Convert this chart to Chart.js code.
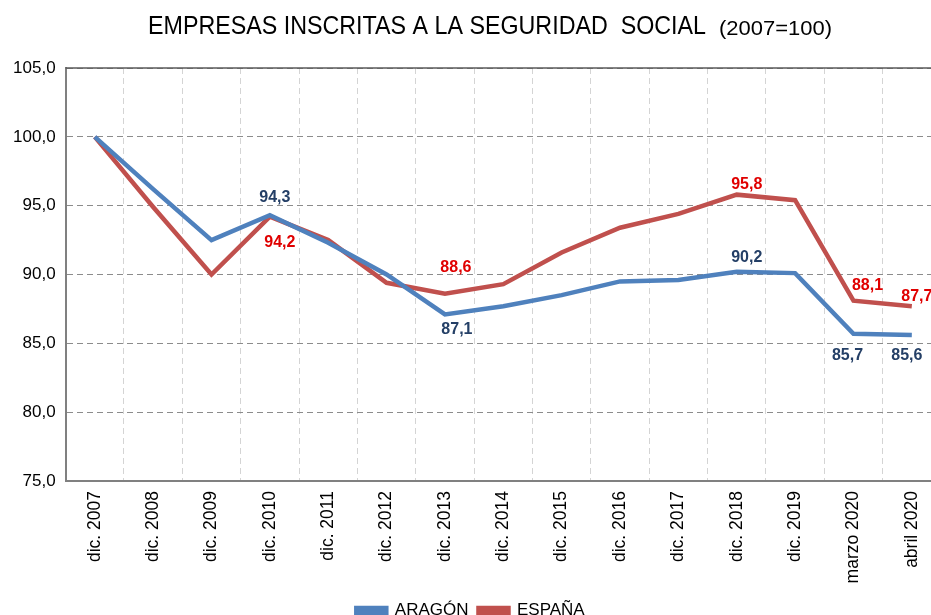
<!DOCTYPE html>
<html>
<head>
<meta charset="utf-8">
<script src="https://cdn.jsdelivr.net/npm/chart.js@4/dist/chart.umd.min.js"></script>
<style>
  html, body { margin: 0; padding: 0; background: #ffffff; overflow: hidden; width: 931px; height: 615px; }
  #wrap { position: absolute; left: 0; top: 0; width: 950px; height: 629px; }
</style>
</head>
<body>
<div id="wrap"><canvas id="c" width="950" height="629"></canvas></div>
<script>
// ---- Data ----
const categories = ['dic. 2007','dic. 2008','dic. 2009','dic. 2010','dic. 2011','dic. 2012','dic. 2013',
  'dic. 2014','dic. 2015','dic. 2016','dic. 2017','dic. 2018','dic. 2019','marzo 2020','abril 2020'];
const aragon = [100, 96.2, 92.5, 94.3, 92.3, 90.0, 87.1, 87.7, 88.5, 89.5, 89.6, 90.2, 90.1, 85.7, 85.6];
const espana = [100, 94.9, 90.0, 94.2, 92.5, 89.4, 88.6, 89.3, 91.6, 93.4, 94.4, 95.8, 95.4, 88.1, 87.7];
const yTicks = [75, 80, 85, 90, 95, 100, 105];
const labeledAragon = [3, 6, 11, 13, 14];
const labeledEspana = [3, 6, 11, 13, 14];
const titleMain = 'EMPRESAS INSCRITAS A LA SEGURIDAD  SOCIAL';
const titleSub = '(2007=100)';

// ---- Styles / placement (not data) ----
const labelPlacement = [
  { color: '#243F66', offsets: { 3: [5, -18], 6: [12, 15], 11: [10, -14], 13: [-6, 22], 14: [-5, 21] } },
  { color: '#E00000', offsets: { 3: [10, 26], 6: [11, -26], 11: [10, -10], 13: [14, -15], 14: [5, -10] } }
];
const labeledIdx = [labeledAragon, labeledEspana];
const FONT = '"Liberation Sans", Arial, sans-serif';

const fmt = v => v.toFixed(1).replace('.', ',');

const titlePlugin = {
  id: 'titleDraw',
  afterDraw(chart) {
    const ctx = chart.ctx;
    ctx.save();
    ctx.fillStyle = '#000';
    ctx.textBaseline = 'alphabetic';
    ctx.textAlign = 'left';
    ctx.font = '25px ' + FONT;
    let w = ctx.measureText(titleMain).width;
    ctx.save();
    ctx.translate(148, 34);
    ctx.scale(558 / w, 1);
    ctx.fillText(titleMain, 0, 0);
    ctx.restore();
    ctx.font = '21px ' + FONT;
    w = ctx.measureText(titleSub).width;
    ctx.save();
    ctx.translate(719, 35);
    ctx.scale(113 / w, 1);
    ctx.fillText(titleSub, 0, 0);
    ctx.restore();
    ctx.restore();
  }
};

const framePlugin = {
  id: 'frame',
  beforeDatasetsDraw(chart) {
    const { ctx, chartArea } = chart;
    ctx.save();
    ctx.strokeStyle = '#5a5a5a';
    ctx.lineWidth = 1.5;
    ctx.beginPath();
    ctx.moveTo(chartArea.left, chartArea.top);
    ctx.lineTo(chartArea.right, chartArea.top);
    ctx.stroke();
    ctx.restore();
  }
};

const labelPlugin = {
  id: 'pointLabels',
  afterDatasetsDraw(chart) {
    const ctx = chart.ctx;
    ctx.save();
    ctx.font = 'bold 16px ' + FONT;
    ctx.textAlign = 'center';
    ctx.textBaseline = 'middle';
    chart.data.datasets.forEach((ds, di) => {
      const meta = chart.getDatasetMeta(di);
      const pl = labelPlacement[di];
      ctx.fillStyle = pl.color;
      labeledIdx[di].forEach(i => {
        const pt = meta.data[i];
        const off = pl.offsets[i] || [0, -14];
        ctx.fillText(fmt(ds.data[i]), pt.x + off[0], pt.y + off[1]);
      });
    });
    ctx.restore();
  }
};

new Chart(document.getElementById('c'), {
  type: 'line',
  data: {
    labels: categories,
    datasets: [
      { label: 'ARAGÓN', data: aragon, borderColor: '#4F81BD', backgroundColor: '#4F81BD',
        borderWidth: 4.5, pointRadius: 0, tension: 0, fill: false },
      { label: 'ESPAÑA', data: espana, borderColor: '#C0504D', backgroundColor: '#C0504D',
        borderWidth: 4.5, pointRadius: 0, tension: 0, fill: false }
    ]
  },
  options: {
    responsive: false,
    animation: false,
    events: [],
    layout: { padding: { top: 68, right: 9, bottom: 0, left: 0 } },
    plugins: {
      title: { display: false },
      tooltip: { enabled: false },
      legend: {
        display: true,
        position: 'bottom',
        labels: {
          boxWidth: 30, boxHeight: 5, padding: 10,
          color: '#000', font: { family: FONT, size: 17 }
        }
      }
    },
    scales: {
      x: {
        offset: true,
        grid: { offset: true, color: '#d4d4d4', lineWidth: 1, drawTicks: false },
        border: { display: true, color: '#808080', width: 2, dash: [6, 4] },
        ticks: { maxRotation: 90, minRotation: 90, autoSkip: false, padding: 10,
                 color: '#000', font: { family: FONT, size: 17.5 } },
        afterFit(scale) { scale.height = 111; }
      },
      y: {
        min: 75, max: 105,
        afterBuildTicks(scale) { scale.ticks = yTicks.map(v => ({ value: v })); },
        grid: { color: '#8c8c8c', lineWidth: 1, drawTicks: false },
        border: { display: true, color: '#808080', width: 2, dash: [6, 4] },
        ticks: { padding: 10, color: '#000', font: { family: FONT, size: 17 },
                 callback: v => fmt(v) },
        afterFit(scale) { scale.width = 65.6; }
      }
    }
  },
  plugins: [titlePlugin, framePlugin, labelPlugin]
});
</script>
</body>
</html>
